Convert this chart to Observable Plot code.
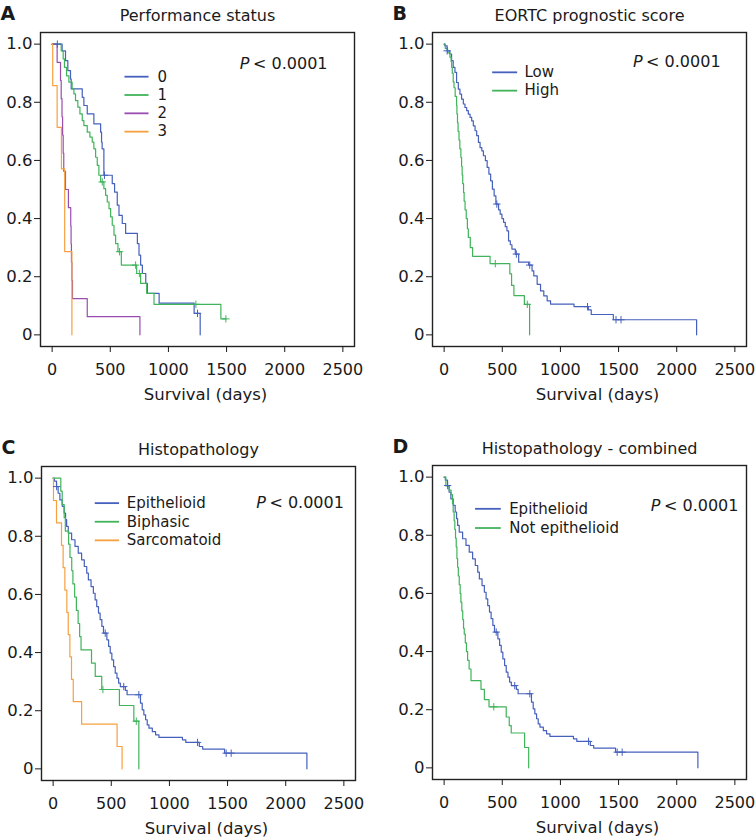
<!DOCTYPE html>
<html><head><meta charset="utf-8">
<script src="https://cdn.jsdelivr.net/npm/d3@7"></script>
<script src="https://cdn.jsdelivr.net/npm/@observablehq/plot@0.6"></script>
<style>
body{margin:0;background:#fff;}
#root{position:relative;width:755px;height:837px;overflow:hidden;background:#fff;}
.panel{position:absolute;width:375px;}
.panel svg{max-width:none !important;}
</style></head><body><div id="root"></div>
<script>
// ---- axis ticks ----
const xTicks = [0, 500, 1000, 1500, 2000, 2500];
const yTicks = [0, 0.2, 0.4, 0.6, 0.8, 1.0];

// ---- Panel A: Performance status ----
const titleA = "Performance status";
const psGroups = ["0", "1", "2", "3"];
const ps0Steps = [[86,.977],[115,.943],[135,.909],[158,.88],[164,.846],[259,.817],[273,.789],[302,.76],[359,.726],[417,.697],[425,.663],[430,.64],[445,.549],[517,.52],[537,.491],[560,.446],[575,.411],[603,.383],[632,.349],[733,.314],[747,.274],[761,.24],[776,.211],[805,.177],[819,.143],[920,.109],[1221,.074],[1273,0]];
const ps0Censor = [45, 450, 1250];
const ps1Steps = [[78,.977],[95,.949],[106,.92],[124,.891],[144,.869],[172,.846],[187,.829],[201,.806],[221,.783],[239,.76],[259,.737],[273,.72],[302,.697],[325,.68],[345,.663],[359,.64],[374,.611],[388,.583],[402,.549],[417,.526],[445,.503],[460,.48],[474,.457],[489,.434],[503,.406],[517,.377],[532,.343],[546,.314],[566,.286],[595,.24],[727,.211],[761,.177],[813,.143],[876,.105],[1451,.055],[1494,.055]];
const ps1Censor = [431, 580, 718, 750, 1236, 1494];
const ps2Steps = [[43,.9375],[72,.875],[78,.8125],[85,.75],[90,.6875],[95,.625],[100,.5625],[115,.5],[140,.4375],[160,.375],[163,.3125],[166,.25],[170,.1875],[175,.125],[302,.0625],[755,0]];
const ps2Censor = [];
const ps3Steps = [[5,.857],[43,.714],[80,.571],[108,.286],[170,0]];
const ps3Censor = [];

// ---- Panel B: EORTC prognostic score ----
const titleB = "EORTC prognostic score";
const eortcGroups = ["Low", "High"];
const lowSteps = [[6,.994],[26,.977],[49,.966],[64,.943],[78,.92],[93,.903],[107,.868],[122,.845],[136,.828],[150,.811],[165,.794],[179,.782],[194,.771],[208,.759],[223,.748],[237,.736],[251,.719],[266,.702],[280,.685],[295,.662],[309,.644],[324,.633],[338,.616],[355,.599],[370,.576],[385,.553],[400,.53],[415,.501],[430,.478],[445,.45],[468,.43],[482,.415],[497,.4],[511,.387],[526,.372],[540,.358],[554,.323],[569,.31],[583,.295],[612,.278],[641,.25],[727,.24],[756,.22],[771,.203],[800,.174],[829,.151],[857,.134],[886,.117],[915,.106],[1117,.097],[1240,.086],[1265,.07],[1455,.052],[2171,0]];
const lowCensor = [26, 453, 621, 736, 1233, 1478, 1521];
const highSteps = [[10,.985],[30,.97],[50,.955],[60,.94],[65,.92],[70,.9],[78,.87],[85,.85],[95,.82],[107,.79],[110,.76],[115,.73],[120,.7],[128,.67],[135,.64],[144,.61],[150,.58],[155,.55],[160,.52],[167,.49],[172,.46],[180,.43],[190,.4],[200,.365],[208,.335],[225,.3],[245,.27],[395,.245],[565,.21],[580,.17],[600,.135],[690,.105],[735,0]];
const highCensor = [440, 715];

// ---- Panel C: Histopathology ----
const titleC = "Histopathology";
const histGroups = ["Epithelioid", "Biphasic", "Sarcomatoid"];
const epiSteps = [[10,.99],[29,.971],[43,.948],[58,.925],[78,.903],[95,.88],[107,.857],[116,.834],[130,.811],[159,.788],[188,.765],[216,.742],[245,.719],[268,.696],[289,.673],[303,.65],[326,.627],[346,.604],[361,.581],[375,.558],[390,.536],[404,.513],[419,.49],[433,.467],[462,.444],[477,.421],[491,.398],[505,.375],[520,.352],[534,.329],[549,.312],[563,.295],[578,.283],[621,.27],[636,.255],[751,.226],[766,.203],[780,.186],[795,.169],[809,.151],[824,.14],[853,.128],[881,.117],[910,.108],[1112,.1],[1141,.091],[1257,.077],[1286,.068],[1474,.054],[2182,0]];
const epiCensor = [30, 448, 607, 737, 1242, 1488, 1531];
const biSteps = [[66,.955],[78,.909],[95,.864],[105,.818],[133,.773],[145,.727],[160,.682],[170,.636],[185,.591],[200,.545],[215,.5],[228,.455],[240,.409],[330,.364],[362,.318],[418,.273],[570,.218],[694,.164],[737,0]];
const biCensor = [428, 715];
const sarcSteps = [[3,.923],[29,.846],[72,.769],[86,.692],[101,.615],[118,.538],[130,.462],[144,.385],[158,.308],[173,.231],[245,.154],[550,.077],[593,0]];
const sarcCensor = [];

// ---- Panel D: Histopathology - combined ----
const titleD = "Histopathology - combined";
const combGroups = ["Epithelioid", "Not epithelioid"];
const nonEpiSteps = [[15,.97],[43,.955],[60,.94],[72,.91],[78,.88],[86,.85],[92,.82],[98,.79],[104,.76],[110,.72],[116,.69],[122,.66],[130,.63],[138,.6],[144,.57],[152,.54],[160,.51],[167,.48],[173,.46],[182,.43],[192,.4],[202,.37],[215,.34],[231,.3],[317,.27],[346,.235],[386,.21],[534,.175],[560,.145],[577,.12],[692,.07],[727,0]];
const nonEpiCensor = [427];

const pText = "< 0.0001";

// ---- colours ----
const BLUE = "#4560bd", GREEN = "#3fb45a", PURPLE = "#9a4db0", ORANGE = "#f6a040";
const FONT = "DejaVu Sans";
const INK = "#1a1a1a";

function kmRows(group, steps) {
  const rows = [{group, t: 0, s: 1}];
  for (const [t, s] of steps) rows.push({group, t, s});
  return rows;
}
function survAt(steps, t) {
  let s = 1;
  for (const [tt, ss] of steps) { if (tt <= t) s = ss; else break; }
  return s;
}

function panel(cfg) {
  const lines = cfg.series.flatMap(d => kmRows(d.name, d.steps));
  const cens = cfg.series.flatMap(d => d.censor.map(t => ({group: d.name, t, s: survAt(d.steps, t)})));
  const leg = cfg.series.map((d, i) => ({group: d.name, y: cfg.legend.y0 - i * cfg.legend.dy}));
  return Plot.plot({
    width: 375, height: 412,
    marginLeft: 40, marginRight: 21, marginTop: 32, marginBottom: 66,
    style: {fontFamily: FONT, fontSize: "16px", background: "white", color: INK, overflow: "visible"},
    x: {domain: [-100, 2600], ticks: xTicks, label: null},
    y: {domain: [-0.04, 1.04], ticks: yTicks, label: null},
    color: {domain: cfg.series.map(d => d.name), range: cfg.series.map(d => d.color)},
    marks: [
      Plot.frame({stroke: "#222", strokeWidth: 1.4}),
      Plot.axisX({ticks: xTicks, tickSize: 6, tickPadding: 11, fontSize: 16, label: null,
        tickFormat: d => String(d)}),
      Plot.axisY({ticks: yTicks, tickSize: 6, tickPadding: 2, fontSize: 16.5, label: null,
        tickFormat: d => d === 0 ? "0" : d.toFixed(1)}),
      Plot.line(lines, {x: "t", y: "s", z: "group", stroke: "group", curve: "step-after", strokeWidth: 1.2}),
      Plot.dot(cens, {x: "t", y: "s", stroke: "group", symbol: "plus", r: 2.5, strokeWidth: 1}),
      Plot.link(leg, {x1: () => cfg.legend.x1, x2: () => cfg.legend.x2, y1: "y", y2: "y", stroke: "group", strokeWidth: 1.8}),
      Plot.text(leg, {x: () => cfg.legend.xt, y: "y", text: "group", textAnchor: "start", fontSize: 15, fill: INK}),
      Plot.text([pText], {x: () => cfg.p[0], y: () => cfg.p[1], text: d => d, textAnchor: "end", fontSize: 16, fill: INK}),
      Plot.text(["P"], {x: () => cfg.p[0], y: () => cfg.p[1], text: d => d, textAnchor: "end", dx: -78, fontSize: 16, fontStyle: "italic", fill: INK}),
      Plot.text([cfg.title], {frameAnchor: "top", dy: -23, text: d => d, fontSize: 16, fill: INK}),
      Plot.text([cfg.letter], {frameAnchor: "top-left", dx: -40, dy: -26, text: d => d, textAnchor: "start", fontSize: 19, fontWeight: "bold", fill: INK}),
      Plot.text(["Survival (days)"], {frameAnchor: "bottom", dy: 53, dx: 8, text: d => d, fontSize: 16.5, fill: INK})
    ]
  });
}

const panels = [
  {letter: "A", title: titleA, left: 0, top: 0,
   series: [
     {name: psGroups[0], steps: ps0Steps, censor: ps0Censor, color: BLUE},
     {name: psGroups[1], steps: ps1Steps, censor: ps1Censor, color: GREEN},
     {name: psGroups[2], steps: ps2Steps, censor: ps2Censor, color: PURPLE},
     {name: psGroups[3], steps: ps3Steps, censor: ps3Censor, color: ORANGE}],
   legend: {x1: 622, x2: 829, xt: 906, y0: 0.888, dy: 0.063}, p: [2368, 0.933]},
  {letter: "B", title: titleB, left: 392, top: 0,
   series: [
     {name: eortcGroups[0], steps: lowSteps, censor: lowCensor, color: BLUE},
     {name: eortcGroups[1], steps: highSteps, censor: highCensor, color: GREEN}],
   legend: {x1: 413, x2: 628, xt: 691, y0: 0.903, dy: 0.063}, p: [2377, 0.94]},
  {letter: "C", title: titleC, left: 1, top: 434,
   series: [
     {name: histGroups[0], steps: epiSteps, censor: epiCensor, color: BLUE},
     {name: histGroups[1], steps: biSteps, censor: biCensor, color: GREEN},
     {name: histGroups[2], steps: sarcSteps, censor: sarcCensor, color: ORANGE}],
   legend: {x1: 358, x2: 567, xt: 633, y0: 0.914, dy: 0.064}, p: [2500, 0.916]},
  {letter: "D", title: titleD, left: 392, top: 433,
   series: [
     {name: combGroups[0], steps: epiSteps, censor: epiCensor, color: BLUE},
     {name: combGroups[1], steps: nonEpiSteps, censor: nonEpiCensor, color: GREEN}],
   legend: {x1: 266, x2: 487, xt: 559, y0: 0.891, dy: 0.066}, p: [2531, 0.902]}
];

const root = document.getElementById("root");
for (const cfg of panels) {
  const div = document.createElement("div");
  div.className = "panel";
  div.style.left = cfg.left + "px";
  div.style.top = cfg.top + "px";
  div.appendChild(panel(cfg));
  root.appendChild(div);
}
</script></body></html>
